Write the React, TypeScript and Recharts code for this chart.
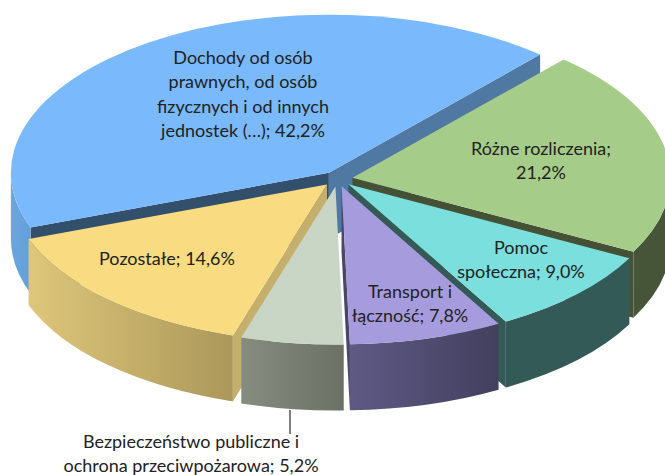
import React from "react";
import { PieChart, Pie } from "recharts";

const categories = [
  "Dochody od osób prawnych, od osób fizycznych i od innych jednostek (…)",
  "Różne rozliczenia",
  "Pomoc społeczna",
  "Transport i łączność",
  "Bezpieczeństwo publiczne i ochrona przeciwpożarowa",
  "Pozostałe",
];
const shares = [42.2, 21.2, 9.0, 7.8, 5.2, 14.6];

const data = categories.map((name, i) => ({ name, value: shares[i] }));

// look of each slice, same order as categories
const looks = [
  { top: "#79b9fc", wall: ["#6aa6e2", "#659fd9"], cutHi: "#324f6b", cutLo: "#4f79a3" },
  { top: "#a6cc8a", wall: ["#465438", "#465438"], cutHi: "#445135", cutLo: "#445135" },
  { top: "#7bdfdd", wall: ["#345a58", "#345a58"], cutHi: "#345a58", cutLo: "#345a58" },
  { top: "#a69cdd", wall: ["#5e5a85", "#433f5e"], cutHi: "#433f5e", cutLo: "#4a4668" },
  { top: "#c9d6c6", wall: ["#868d80", "#6b7265"], cutHi: "#868d80", cutLo: "#868d80" },
  { top: "#f9dc82", wall: ["#dec67a", "#ab985a"], cutHi: "#c4b06c", cutLo: "#c4b06c" },
];

// text placement: centre x, first baseline, max chars per line
const labelSpots = [
  { x: 243, y: 64, wrap: 22 },
  { x: 541, y: 155, wrap: 18 },
  { x: 521, y: 254, wrap: 15 },
  { x: 410, y: 298, wrap: 14 },
  { x: 191, y: 448, wrap: 29 },
  { x: 167, y: 265, wrap: 16 },
];

const SQUASH = 158 / 318;
const DEPTH = 66;
const EXPLODE = 0.048;
const rad = (d: number) => (d * Math.PI) / 180;

const wrapText = (text: string, max: number) => {
  const lines: string[] = [];
  text.split(" ").forEach((word) => {
    const last = lines[lines.length - 1];
    if (last !== undefined && (last + " " + word).length <= max) lines[lines.length - 1] = last + " " + word;
    else lines.push(word);
  });
  return lines;
};

const frontRanges = (lo: number, hi: number) => {
  const out: [number, number][] = [];
  for (const k of [-1, 0, 1]) {
    const p = Math.max(lo, 180 + 360 * k);
    const q = Math.min(hi, 360 + 360 * k);
    if (q > p) out.push([p, q]);
  }
  return out;
};

const sliceShape = (drawn: number[]) => (props: any) => {
  const idx = categories.indexOf(props.name ?? props.payload?.name);
  if (!drawn.includes(idx)) return <g />;
  const look = looks[idx];
  const rx = props.outerRadius;
  const ry = rx * SQUASH;
  const lo = Math.min(props.startAngle, props.endAngle);
  const hi = Math.max(props.startAngle, props.endAngle);
  const mid = rad((lo + hi) / 2);
  const ox = props.cx + EXPLODE * rx * Math.cos(mid);
  const oy = props.cy - EXPLODE * ry * Math.sin(mid);
  const rim = (deg: number, z = 0) =>
    `${ox + rx * Math.cos(rad(deg))} ${oy - ry * Math.sin(rad(deg)) + z}`;
  const cut = (deg: number, fill: string) => (
    <path
      d={`M${ox} ${oy}L${rim(deg)}L${rim(deg, DEPTH)}L${ox} ${oy + DEPTH}Z`}
      fill={fill}
    />
  );
  const gradId = `wall-${idx}`;
  return (
    <g>
      <defs>
        <linearGradient id={gradId} x1="0" y1="0" x2="1" y2="0">
          <stop offset="0%" stopColor={look.wall[0]} />
          <stop offset="100%" stopColor={look.wall[1]} />
        </linearGradient>
      </defs>
      {Math.cos(rad(hi)) < 0 && cut(hi, look.cutHi)}
      {Math.cos(rad(lo)) > 0 && cut(lo, look.cutLo)}
      {frontRanges(lo, hi).map(([p, q]) => (
        <path
          key={p}
          d={`M${rim(q)}A${rx} ${ry} 0 0 1 ${rim(p)}L${rim(p, DEPTH)}A${rx} ${ry} 0 0 0 ${rim(q, DEPTH)}Z`}
          fill={`url(#${gradId})`}
        />
      ))}
      <path
        d={`M${ox} ${oy}L${rim(hi)}A${rx} ${ry} 0 ${hi - lo > 180 ? 1 : 0} 1 ${rim(lo)}Z`}
        fill={look.top}
      />
    </g>
  );
};

const sliceLabel = (props: any) => {
  const idx = categories.indexOf(props.name ?? props.payload?.name);
  const spot = labelSpots[idx];
  const pct = shares[idx].toFixed(1).replace(".", ",") + "%";
  const lines = wrapText(`${categories[idx]}; ${pct}`, spot.wrap);
  return (
    <g key={idx}>
      {idx === 4 && <line x1={290} y1={410} x2={290} y2={434} stroke="#000" strokeWidth={1} />}
      <text
        x={spot.x}
        y={spot.y}
        textAnchor="middle"
        fontFamily="Lato"
        fontSize={18}
        fill="#222"
      >
        {lines.map((l, i) => (
          <tspan key={i} x={spot.x} y={spot.y + i * 24.3}>
            {l}
          </tspan>
        ))}
      </text>
    </g>
  );
};

const CX = 337.5;
const CY = 179;
const RADIUS = 318;
const START = 200.3;

export default function App() {
  return (
    <div style={{ position: "absolute", left: 0, top: 0, width: 665, height: 475, overflow: "hidden", background: "#fff" }}>
      <PieChart width={665} height={475} margin={{ top: 0, right: 0, bottom: 0, left: 0 }}>
        {/* back slices, clockwise */}
        <Pie
          data={data}
          dataKey="value"
          nameKey="name"
          cx={CX}
          cy={CY}
          outerRadius={RADIUS}
          startAngle={START}
          endAngle={START - 360}
          stroke="none"
          isAnimationActive={false}
          shape={sliceShape([0, 1, 2])}
        />
        {/* front slices, counter-clockwise so yellow paints before grey */}
        <Pie
          data={[data[0], ...data.slice(1).reverse()]}
          dataKey="value"
          nameKey="name"
          cx={CX}
          cy={CY}
          outerRadius={RADIUS}
          startAngle={START - 152}
          endAngle={START - 152 + 360}
          stroke="none"
          isAnimationActive={false}
          shape={sliceShape([5, 4, 3])}
          label={sliceLabel}
          labelLine={false}
        />
      </PieChart>
    </div>
  );
}
